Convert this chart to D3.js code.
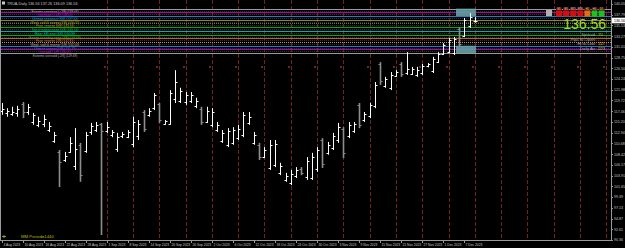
<!DOCTYPE html>
<html><head><meta charset="utf-8">
<script src="https://cdn.jsdelivr.net/npm/d3@7/dist/d3.min.js"></script>
<style>html,body{margin:0;padding:0;background:#000;overflow:hidden}svg{display:block}text{font-family:"Liberation Sans",Arial,sans-serif}</style>
</head><body><svg id="c" width="625" height="248"></svg>
<script>
// ---- data ----
const opens  = [117.6,117.0,116.9,117.0,119.0,117.4,115.2,114.6,114.8,113.5,111.2,108.9,107.2,108.9,106.0,110.3,109.0,113.0,113.6,114.7,113.3,112.4,109.6,112.2,112.1,110.5,112.2,117.4,116.6,118.1,118.9,114.8,114.8,120.0,119.6,119.3,119.6,118.6,118.0,115.2,114.6,113.5,111.2,110.4,110.8,111.8,112.4,114.9,110.8,110.3,107.9,105.6,106.2,104.5,102.9,102.3,103.8,105.4,103.6,103.5,105.2,111.4,108.6,109.8,111.3,113.7,112.3,113.3,118.7,115.6,116.5,118.6,127.3,122.8,122.4,124.9,127.4,125.5,125.4,125.1,125.5,126.9,125.9,127.9,129.6,130.0,129.7,134.8,133.4,135.3,136.56];
const highs  = [119.2,118.1,118.4,118.6,119.4,119.0,117.1,116.3,116.7,115.2,113.1,109.3,108.9,112.0,113.9,110.8,113.1,115.0,115.2,115.0,115.2,113.5,112.9,113.1,113.5,116.3,115.6,117.7,118.1,121.3,119.2,115.6,121.9,126.1,122.4,121.5,121.5,120.3,118.4,118.4,118.1,115.2,113.5,113.9,114.1,114.6,117.3,117.3,113.1,110.8,109.9,111.4,111.4,106.6,104.5,105.1,105.7,105.7,107.8,108.7,109.9,111.8,111.0,112.9,115.0,114.1,115.2,115.2,119.2,117.3,119.2,123.6,127.8,124.7,125.7,126.1,127.8,129.9,126.8,126.8,127.4,127.6,128.9,129.9,131.8,132.9,133.1,135.2,137.1,138.1,137.26];
const lows   = [116.7,116.3,116.5,116.3,116.0,116.7,114.6,114.1,114.1,113.1,110.8,101.5,106.8,108.7,105.1,102.6,108.7,112.5,113.1,91.4,112.9,112.0,108.9,111.8,111.8,109.9,111.4,113.1,116.3,117.7,115.0,114.6,114.6,119.2,119.2,118.8,119.2,118.1,114.6,115.0,114.1,113.1,110.8,109.9,110.4,111.4,112.0,114.6,110.4,107.2,107.6,105.1,105.7,104.0,102.6,101.9,103.4,104.0,103.0,103.0,104.7,105.5,108.3,109.3,110.8,107.6,111.8,112.9,113.9,115.2,116.0,118.1,123.0,122.4,121.9,124.7,124.7,125.1,125.1,124.7,125.1,126.7,125.5,127.6,129.3,129.7,129.3,131.0,133.1,135.0,136.09];
const closes = [118.0,117.6,117.4,117.9,117.3,118.4,116.7,115.4,115.8,114.3,112.4,106.8,108.0,110.8,109.5,104.1,112.4,114.3,114.6,113.4,114.2,113.1,112.0,112.7,113.0,115.2,114.8,113.8,117.6,120.8,115.6,115.3,121.2,123.6,121.8,120.8,120.9,119.7,115.2,117.6,117.2,114.6,112.8,113.2,113.5,113.8,116.6,116.2,112.5,107.8,109.2,110.3,110.6,105.9,103.9,104.3,105.0,104.4,106.9,107.8,109.2,106.3,110.3,112.2,114.2,108.6,114.6,114.8,114.6,116.9,118.7,123.0,123.8,124.2,125.0,125.8,125.3,126.4,126.3,126.2,126.9,127.3,128.5,129.5,131.4,132.4,132.7,131.6,136.6,137.2,136.56];
const dateLabels = ["4 Aug 2023","10 Aug 2023","16 Aug 2023","22 Aug 2023","28 Aug 2023","1 Sep 2023","8 Sep 2023","14 Sep 2023","20 Sep 2023","26 Sep 2023","2 Oct 2023","6 Oct 2023","12 Oct 2023","18 Oct 2023","24 Oct 2023","30 Oct 2023","3 Nov 2023","9 Nov 2023","15 Nov 2023","21 Nov 2023","27 Nov 2023","1 Dec 2023","7 Dec 2023"];
const priceTicks = [90.36,92.61,94.87,97.13,99.39,101.65,103.91,106.17,108.42,110.68,112.94,115.20,117.46,119.72,121.98,124.24,126.50,128.75,131.01,133.27,135.53,137.79,140.05];
const mmNames = ["Extreme overshoot [+2/8]","Overshoot [+1/8]","Ultimate resistance [8/8]","Weak, stall & reverse [7/8]","Pivot, reverse [6/8]","Top of trading range [5/8]","Major S/R pivot [4/8]","Bottom of trading range [3/8]","Pivot, reverse [2/8]","Weak, stall & reverse [1/8]","Ultimate support [0/8]","Oversold [-1/8]","Extreme oversold [-2/8]"];
const mmLevels = [139.06,138.28,137.50,136.72,135.94,135.16,134.38,133.59,132.81,132.03,131.25,130.47,129.69];
const infoLabels = ["Spread:","Pips to Open:","Hi to Low:","Daily Av:"];
const infoValues = ["70","-","117","223"];
const tfLabels = ["M1","M5","M15","M30","H1","H4","D1"];
const lastPrice = 136.56;
const titleText = "TRUA,Daily  136.56 137.26 136.09 136.56";

// ---- scales ----
const svg = d3.select("#c");
svg.append("rect").attr("width",625).attr("height",248).attr("fill","#000");
const x = d3.scaleLinear().domain([0,115]).range([1.5,606.4]);
const y = d3.scaleLinear().domain([90.35,136.56]).range([240,20.5]);

// separators
const sepIdx = d3.range(20,116,5);
svg.append("g").selectAll("line").data(sepIdx).join("line")
  .attr("x1",d=>Math.round(x(d))+0.5).attr("x2",d=>Math.round(x(d))+0.5)
  .attr("y1",0).attr("y2",240).attr("stroke","#6e2424").attr("stroke-width",1).attr("stroke-dasharray","4,2");
svg.append("g").selectAll("rect").data(sepIdx).join("rect")
  .attr("x",d=>Math.round(x(d))-3).attr("y",66).attr("width",2).attr("height",2).attr("fill","#6a2626");

// Murrey lines
const mmColors = ["#9a9a9a","#b000b0","#1e7fc8","#8c8c10","#707070","#00b000","#00b0b0","#00b000","#b06a30","#c89080","#1e7fc8","#b000b0","#9a9a9a"];
const mmText   = ["#c0c0c0","#c000c0","#2a8ad0","#a0a020","#d08040","#00c000","#00c0c0","#00c000","#c07a40","#d0a090","#2a8ad0","#c000c0","#b0b0b0"];
const mg = svg.append("g");
mmLevels.forEach((v,i)=>{
  const yy = Math.round(y(v))+0.5;
  mg.append("line").attr("x1",0).attr("x2",611).attr("y1",yy).attr("y2",yy)
    .attr("stroke",mmColors[i]).attr("stroke-width",1.2).attr("stroke-dasharray", i===4||i===9 ? "1,1" : null);
  if(i<12) mg.append("line").attr("x1",0).attr("x2",611).attr("y1",yy+2).attr("y2",yy+2)
    .attr("stroke","#3a3a3a").attr("stroke-width",0.8).attr("stroke-dasharray","1,1");
  mg.append("text").attr("x",55).attr("y",yy+3.2).attr("text-anchor","middle")
    .attr("font-size",3.1).attr("fill",mmText[i])
    .text(mmNames[i]+" ("+v.toFixed(2)+")");
});

// teal boxes
svg.append("rect").attr("x",x(86.4)).attr("y",y(139.06)).attr("width",x(90.2)-x(86.4)).attr("height",y(137.5)-y(139.06)).attr("fill","#6aa8ad").attr("opacity",0.85);
svg.append("rect").attr("x",x(86.4)).attr("y",y(131.25)).attr("width",x(90.2)-x(86.4)).attr("height",y(129.69)-y(131.25)).attr("fill","#6aa8ad").attr("opacity",0.85);

// bars
const bars = svg.append("g");
opens.forEach((o,i)=>{
  const up = closes[i] >= o;
  const col = up ? "#ffffff" : "#8c8c8c";
  const xx = Math.round(x(i))+0.5;
  bars.append("line").attr("x1",xx).attr("x2",xx).attr("y1",y(highs[i])).attr("y2",y(lows[i])).attr("stroke",col).attr("stroke-width",up?1:1.6);
  bars.append("line").attr("x1",xx-2).attr("x2",xx).attr("y1",Math.round(y(o))+0.5).attr("y2",Math.round(y(o))+0.5).attr("stroke",col);
  bars.append("line").attr("x1",xx).attr("x2",xx+2).attr("y1",Math.round(y(closes[i]))+0.5).attr("y2",Math.round(y(closes[i]))+0.5).attr("stroke",col);
});

// axes
svg.append("line").attr("x1",0).attr("x2",612).attr("y1",240.5).attr("y2",240.5).attr("stroke","#9a9a9a");
svg.append("line").attr("x1",611.5).attr("x2",611.5).attr("y1",0).attr("y2",241).attr("stroke","#9a9a9a");
svg.append("line").attr("x1",0.5).attr("x2",0.5).attr("y1",0).attr("y2",241).attr("stroke","#9a9a9a");
const ya = svg.append("g");
priceTicks.forEach(v=>{
  const yy = y(v);
  ya.append("line").attr("x1",611).attr("x2",613).attr("y1",Math.round(yy)+0.5).attr("y2",Math.round(yy)+0.5).attr("stroke","#9a9a9a");
  ya.append("text").attr("x",614).attr("y",yy+1.4).attr("font-size",3.6).attr("fill","#c8c8c8").text(v.toFixed(2));
});
ya.append("rect").attr("x",612).attr("y",y(lastPrice)-2.8).attr("width",13).attr("height",5.6).attr("fill","#fff");
ya.append("text").attr("x",614).attr("y",y(lastPrice)+1.4).attr("font-size",3.6).attr("fill","#000").text(lastPrice.toFixed(2));
const xa = svg.append("g");
dateLabels.forEach((t,k)=>{
  const xx = Math.round(x(k*4))+0.5;
  xa.append("line").attr("x1",xx).attr("x2",xx).attr("y1",240).attr("y2",243).attr("stroke","#9a9a9a");
  xa.append("text").attr("x",xx+1).attr("y",246).attr("font-size",3.3).attr("fill","#c8c8c8").text(t);
});

// title
svg.append("rect").attr("x",2).attr("y",1.5).attr("width",3).attr("height",3).attr("fill","#c8c8c8");
svg.append("text").attr("x",7).attr("y",5).attr("font-size",3.8).attr("fill","#c8c8c8").text(titleText);

// MM period
svg.append("text").attr("x",21).attr("y",237.5).attr("font-size",4.3).attr("fill","#b8b800").text("MM Period=1440");
svg.append("path").attr("d","M2,236.5 L6,236.5 M4,235 L4,238").attr("stroke","#b8b800").attr("stroke-width",0.8);

// right info panel
const tfCols = ["#d01010","#d01010","#d01010","#d01010","#e07010","#20c020","#20c020"];
svg.append("rect").attr("x",546).attr("y",10).attr("width",6).attr("height",6).attr("fill","#b0b0b0");
tfLabels.forEach((t,k)=>{
  const xx = 556+k*7.1;
  svg.append("rect").attr("x",xx).attr("y",7.5).attr("width",6).attr("height",3).attr("fill","#5a1010");
  svg.append("text").attr("x",xx+3).attr("y",10).attr("text-anchor","middle").attr("font-size",2.6).attr("fill","#ddd").text(t);
  svg.append("rect").attr("x",xx).attr("y",10.5).attr("width",6).attr("height",6).attr("fill",tfCols[k]);
});
svg.append("text").attr("x",606).attr("y",28.5).attr("text-anchor","end").attr("font-size",14).attr("fill","#a8d830").text(lastPrice.toFixed(2));
const infoCols = ["#ff8c00","#ff5020","#ffa000","#c8d020"];
infoLabels.forEach((t,k)=>{
  svg.append("text").attr("x",596).attr("y",36+k*4.6).attr("text-anchor","end").attr("font-size",4.2).attr("fill","#a8a8a8").text(t);
  svg.append("text").attr("x",598).attr("y",36+k*4.6).attr("font-size",4.2).attr("fill",infoCols[k]).text(infoValues[k]);
});
</script></body></html>
